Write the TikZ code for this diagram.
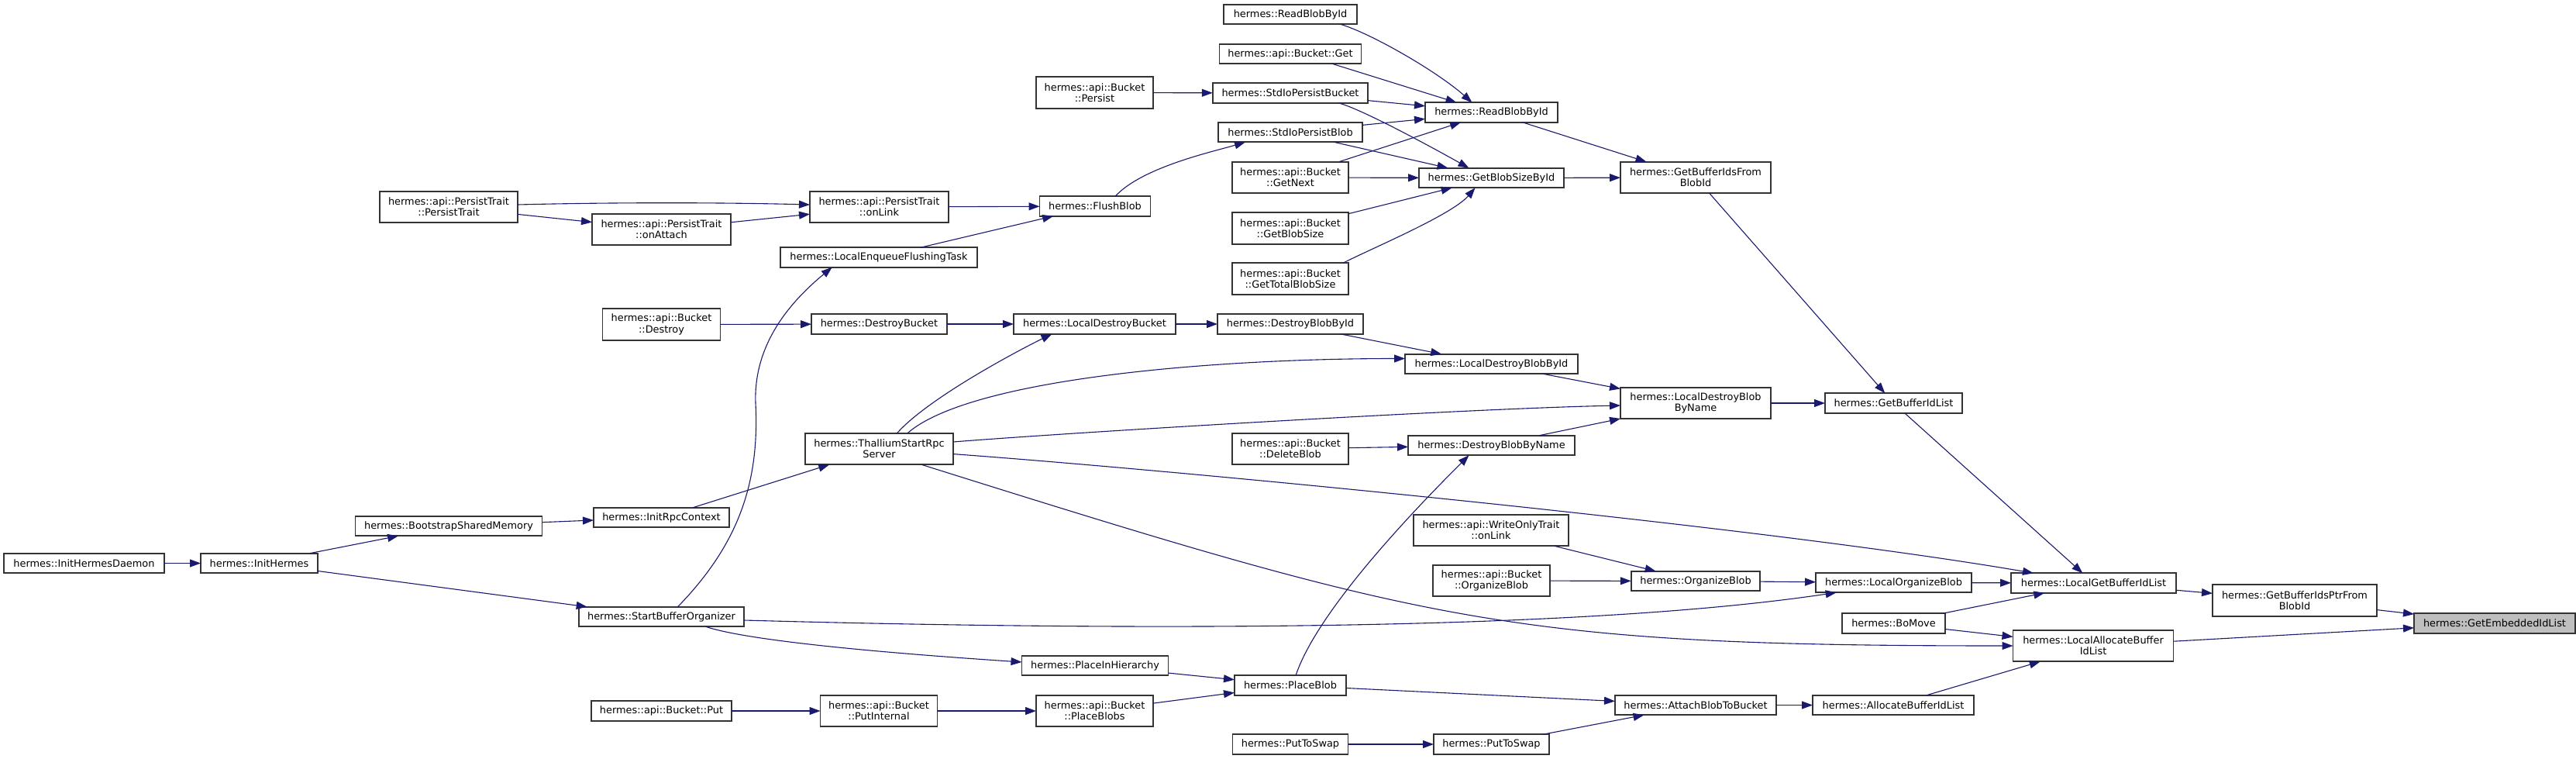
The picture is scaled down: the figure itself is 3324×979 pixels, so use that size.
\documentclass[tikz,border=0pt]{standalone}
\usepackage{fontspec}
\setmainfont{DejaVu Sans}
\usetikzlibrary{arrows.meta,calc}
\definecolor{edgeblue}{HTML}{191970}
\definecolor{targetgrey}{HTML}{BFBFBF}
\begin{document}
\begin{tikzpicture}[x=1pt,y=-1pt,
  box/.style={draw=black!80, fill=white, line width=1.7pt, inner sep=0pt, outer sep=0pt,
    align=center, font=\fontsize{12.9}{14.3}\selectfont, minimum height=25.5pt},
  tall/.style={box, minimum height=40.5pt},
  edge/.style={draw=edgeblue, line width=1.1pt, -{Triangle[length=14pt,width=10pt]}}]
\useasboundingbox (0,0) rectangle (3324,979);
\fill[white] (0,0) rectangle (3324,979);

% column 0-3
\node[box,minimum width=207pt] (IHD) at (108.5,726.5) {hermes::InitHermesDaemon};
\node[box,minimum width=151pt] (IH) at (334.5,726.5) {hermes::InitHermes};
\node[box,minimum width=241pt] (BSM) at (579,678.5) {hermes::BootstrapSharedMemory};
\node[tall,minimum width=178pt] (PTPT) at (579,267) {hermes::api::PersistTrait\\::PersistTrait};
\node[tall,minimum width=179pt] (OnAttach) at (853.5,296) {hermes::api::PersistTrait\\::onAttach};
\node[tall,minimum width=152pt] (BDestroy) at (853.5,418.5) {hermes::api::Bucket\\::Destroy};
\node[box,minimum width=175pt] (IRC) at (853.5,667.5) {hermes::InitRpcContext};
\node[box,minimum width=213pt] (SBO) at (853.5,795.5) {hermes::StartBufferOrganizer};
\node[box,minimum width=181pt] (BPut) at (853.5,917) {hermes::api::Bucket::Put};
% column 4
\node[tall,minimum width=179pt] (OnLink) at (1134.5,267) {hermes::api::PersistTrait\\::onLink};
\node[box,minimum width=254pt] (LEFT) at (1134,332) {hermes::LocalEnqueueFlushingTask};
\node[box,minimum width=175pt] (DBucket) at (1134.5,418) {hermes::DestroyBucket};
\node[tall,minimum width=191pt] (TSRS) at (1134.5,579) {hermes::ThalliumStartRpc\\Server};
\node[tall,minimum width=151pt] (PutInt) at (1134,917) {hermes::api::Bucket\\::PutInternal};
% column 5
\node[tall,minimum width=151pt] (BPersist) at (1412.5,119.5) {hermes::api::Bucket\\::Persist};
\node[box,minimum width=143pt] (Flush) at (1413,266) {hermes::FlushBlob};
\node[box,minimum width=209pt] (LDB) at (1412.5,418) {hermes::LocalDestroyBucket};
\node[box,minimum width=189pt] (PIH) at (1413,858.5) {hermes::PlaceInHierarchy};
\node[tall,minimum width=151pt] (PBlobs) at (1412.5,917) {hermes::api::Bucket\\::PlaceBlobs};
% column 6
\node[box,minimum width=171.5pt] (ReadTop) at (1665,18.5) {hermes::ReadBlobById};
\node[box,minimum width=183pt] (BGet) at (1665,69.5) {hermes::api::Bucket::Get};
\node[box,minimum width=200.5pt] (SPBucket) at (1665,120) {hermes::StdIoPersistBucket};
\node[box,minimum width=185.5pt] (SPBlob) at (1665,170.5) {hermes::StdIoPersistBlob};
\node[tall,minimum width=150.5pt] (GetNext) at (1665,229) {hermes::api::Bucket\\::GetNext};
\node[tall,minimum width=150.5pt] (GetBlobSize) at (1665,294.5) {hermes::api::Bucket\\::GetBlobSize};
\node[tall,minimum width=150.5pt] (GetTotal) at (1665,359.5) {hermes::api::Bucket\\::GetTotalBlobSize};
\node[box,minimum width=188pt] (DBBI) at (1665,418) {hermes::DestroyBlobById};
\node[tall,minimum width=150.5pt] (DeleteBlob) at (1665,579) {hermes::api::Bucket\\::DeleteBlob};
\node[box,minimum width=144pt] (PlaceBlob) at (1665,884) {hermes::PlaceBlob};
\node[box,minimum width=149pt] (BPTS) at (1665,960) {hermes::PutToSwap};
% column 7
\node[box,minimum width=171pt] (ReadMid) at (1924.5,145) {hermes::ReadBlobById};
\node[box,minimum width=187pt] (GBSBI) at (1924.5,229.5) {hermes::GetBlobSizeById};
\node[box,minimum width=223pt] (LDBBI) at (1924.5,469.5) {hermes::LocalDestroyBlobById};
\node[box,minimum width=215pt] (DBBN) at (1924.5,574.5) {hermes::DestroyBlobByName};
\node[tall,minimum width=200pt] (WOT) at (1924,684) {hermes::api::WriteOnlyTrait\\::onLink};
\node[tall,minimum width=151pt] (BOrg) at (1924.5,749) {hermes::api::Bucket\\::OrganizeBlob};
\node[box,minimum width=149pt] (PTS) at (1924.5,960) {hermes::PutToSwap};
% column 8
\node[tall,minimum width=194pt] (GBIFB) at (2188,229) {hermes::GetBufferIdsFrom\\BlobId};
\node[tall,minimum width=194pt] (LDBBN) at (2188,520) {hermes::LocalDestroyBlob\\ByName};
\node[box,minimum width=166.5pt] (OrgBlob) at (2188,749.5) {hermes::OrganizeBlob};
\node[box,minimum width=208pt] (ABTB) at (2188,909.5) {hermes::AttachBlobToBucket};
% column 9
\node[box,minimum width=177pt] (GBIL) at (2443.5,520) {hermes::GetBufferIdList};
\node[box,minimum width=201pt] (LOB) at (2443.5,751.5) {hermes::LocalOrganizeBlob};
\node[box,minimum width=133pt] (BoMove) at (2443.5,804) {hermes::BoMove};
\node[box,minimum width=208pt] (ABIL) at (2443,909.5) {hermes::AllocateBufferIdList};
% column 10-12
\node[box,minimum width=213pt] (LGBIL) at (2701.5,752) {hermes::LocalGetBufferIdList};
\node[tall,minimum width=207pt] (LABIL) at (2701,833) {hermes::LocalAllocateBuffer\\IdList};
\node[tall,minimum width=212pt] (GBIPFB) at (2961,774.5) {hermes::GetBufferIdsPtrFrom\\BlobId};
\node[box,minimum width=208pt,fill=targetgrey] (GEIL) at (3219,804) {hermes::GetEmbeddedIdList};

\coordinate (sboBend) at (975,520);

% edges
\draw[edge] (IHD) -- (IH);
\draw[edge] (IH) -- (BSM);
\draw[edge] (IH) -- (SBO);
\draw[edge] (BSM) -- (IRC);
\draw[edge] (IRC) -- (TSRS);
\draw[edge] ($(PTPT.east)+(0,-3)$) .. controls +(120,-3) and +(-120,-3) .. ($(OnLink.west)+(0,-3)$);
\draw[edge] (PTPT) -- (OnAttach);
\draw[edge] (OnAttach) -- (OnLink);
\draw[edge] (OnLink) -- (Flush);
\draw[edge] (LEFT) -- (Flush);
\draw[edge] ($(Flush.north)+(26,0)$) .. controls +(35,-38) and +(-40,12) .. ($(SPBlob.south)+(-58,0)$);
\draw[edge] (BPersist) -- (SPBucket);
\draw[edge] ($(ReadTop.south)+(64.6,0)$) .. controls +(40,12) and +(-45,-40) .. ($(ReadMid.north)+(-25,0)$);
\draw[edge] ($(BGet.south)+(54,0)$) -- ($(ReadMid.north)+(-45,0)$);
\draw[edge] (SPBucket) -- (ReadMid);
\draw[edge] ($(SPBucket.south)+(62,0)$) .. controls +(30,8) and +(-50,-28) .. ($(GBSBI.north)+(-29,0)$);
\draw[edge] (SPBlob) -- (ReadMid);
\draw[edge] (SPBlob) -- (GBSBI);
\draw[edge] (GetNext) -- (ReadMid);
\draw[edge] (GetNext) -- (GBSBI);
\draw[edge] (GetBlobSize) -- (GBSBI);
\draw[edge] ($(GetTotal.north)+(68,0)$) .. controls +(35,-18) and +(-30,35) .. ($(GBSBI.south)+(-21,0)$);
\draw[edge] (ReadMid) -- (GBIFB);
\draw[edge] (GBSBI) -- (GBIFB);
\draw[edge] (GBIFB) -- (GBIL);
\draw[edge] (BDestroy) -- (DBucket);
\draw[edge] (DBucket) -- (LDB);
\draw[edge] (LDB) -- (DBBI);
\draw[edge] (DBBI) -- (LDBBI);
\draw[edge] ($(TSRS.north)+(23,0)$) .. controls +(40,-45) and +(-45,22) .. ($(LDB.south)+(-55,0)$);
\draw[edge] ($(TSRS.north)+(36.5,0)$) .. controls +(80,-70) and +(-250,0) .. ($(LDBBI.west)+(0,-7)$);
\draw[edge] (LDBBI) -- (LDBBN);
\draw[edge] ($(TSRS.east)+(0,-9)$) .. controls +(150,-12) and +(-200,4) .. ($(LDBBN.west)+(0,3)$);
\draw[edge] (DBBN) -- (LDBBN);
\draw[edge] (LDBBN) -- (GBIL);
\draw[edge] (DeleteBlob) -- (DBBN);
\draw[edge] ($(PlaceBlob.north)+(7,0)$) .. controls +(30,-90) and +(-50,50) .. ($(DBBN.south)+(-29,0)$);
\draw[edge] ($(TSRS.east)+(0,6.6)$) .. controls +(300,22) and +(-350,-60) .. ($(LGBIL.north west)+(29,0)$);
\draw[edge] ($(TSRS.south)+(54.5,0)$) .. controls +(650,204) and +(-650,0) .. (LABIL.west);
\draw[edge] (GBIL) -- (LGBIL);
\draw[edge] ($(SBO.north)+(21,0)$) .. controls (955,700) and (980,620) .. (sboBend) .. controls (972,440) and (1025,385) .. ($(LEFT.south)+(-60.3,0)$);
\draw[edge] ($(SBO.east)+(0,4.5)$) .. controls (1500,815) and (2050,812) .. ($(LOB.south)+(-73.8,0)$);
\draw[edge] ($(SBO.south)+(57,0)$) .. controls +(60,20) and +(-150,-10) .. ($(PIH.west)+(0,-4.5)$);
\draw[edge] (PIH) -- (PlaceBlob);
\draw[edge] (BPut) -- (PutInt);
\draw[edge] (PutInt) -- (PBlobs);
\draw[edge] (PBlobs) -- (PlaceBlob);
\draw[edge] (PlaceBlob) -- (ABTB);
\draw[edge] (BPTS) -- (PTS);
\draw[edge] (PTS) -- (ABTB);
\draw[edge] (ABTB) -- (ABIL);
\draw[edge] (ABIL) -- (LABIL);
\draw[edge] (WOT) -- (OrgBlob);
\draw[edge] (BOrg) -- (OrgBlob);
\draw[edge] (OrgBlob) -- (LOB);
\draw[edge] (LOB) -- (LGBIL);
\draw[edge] (BoMove) -- (LGBIL);
\draw[edge] (BoMove) -- (LABIL);
\draw[edge] (LGBIL) -- (GBIPFB);
\draw[edge] (GBIPFB) -- (GEIL);
\draw[edge] (LABIL) -- (GEIL);
\end{tikzpicture}
\end{document}
